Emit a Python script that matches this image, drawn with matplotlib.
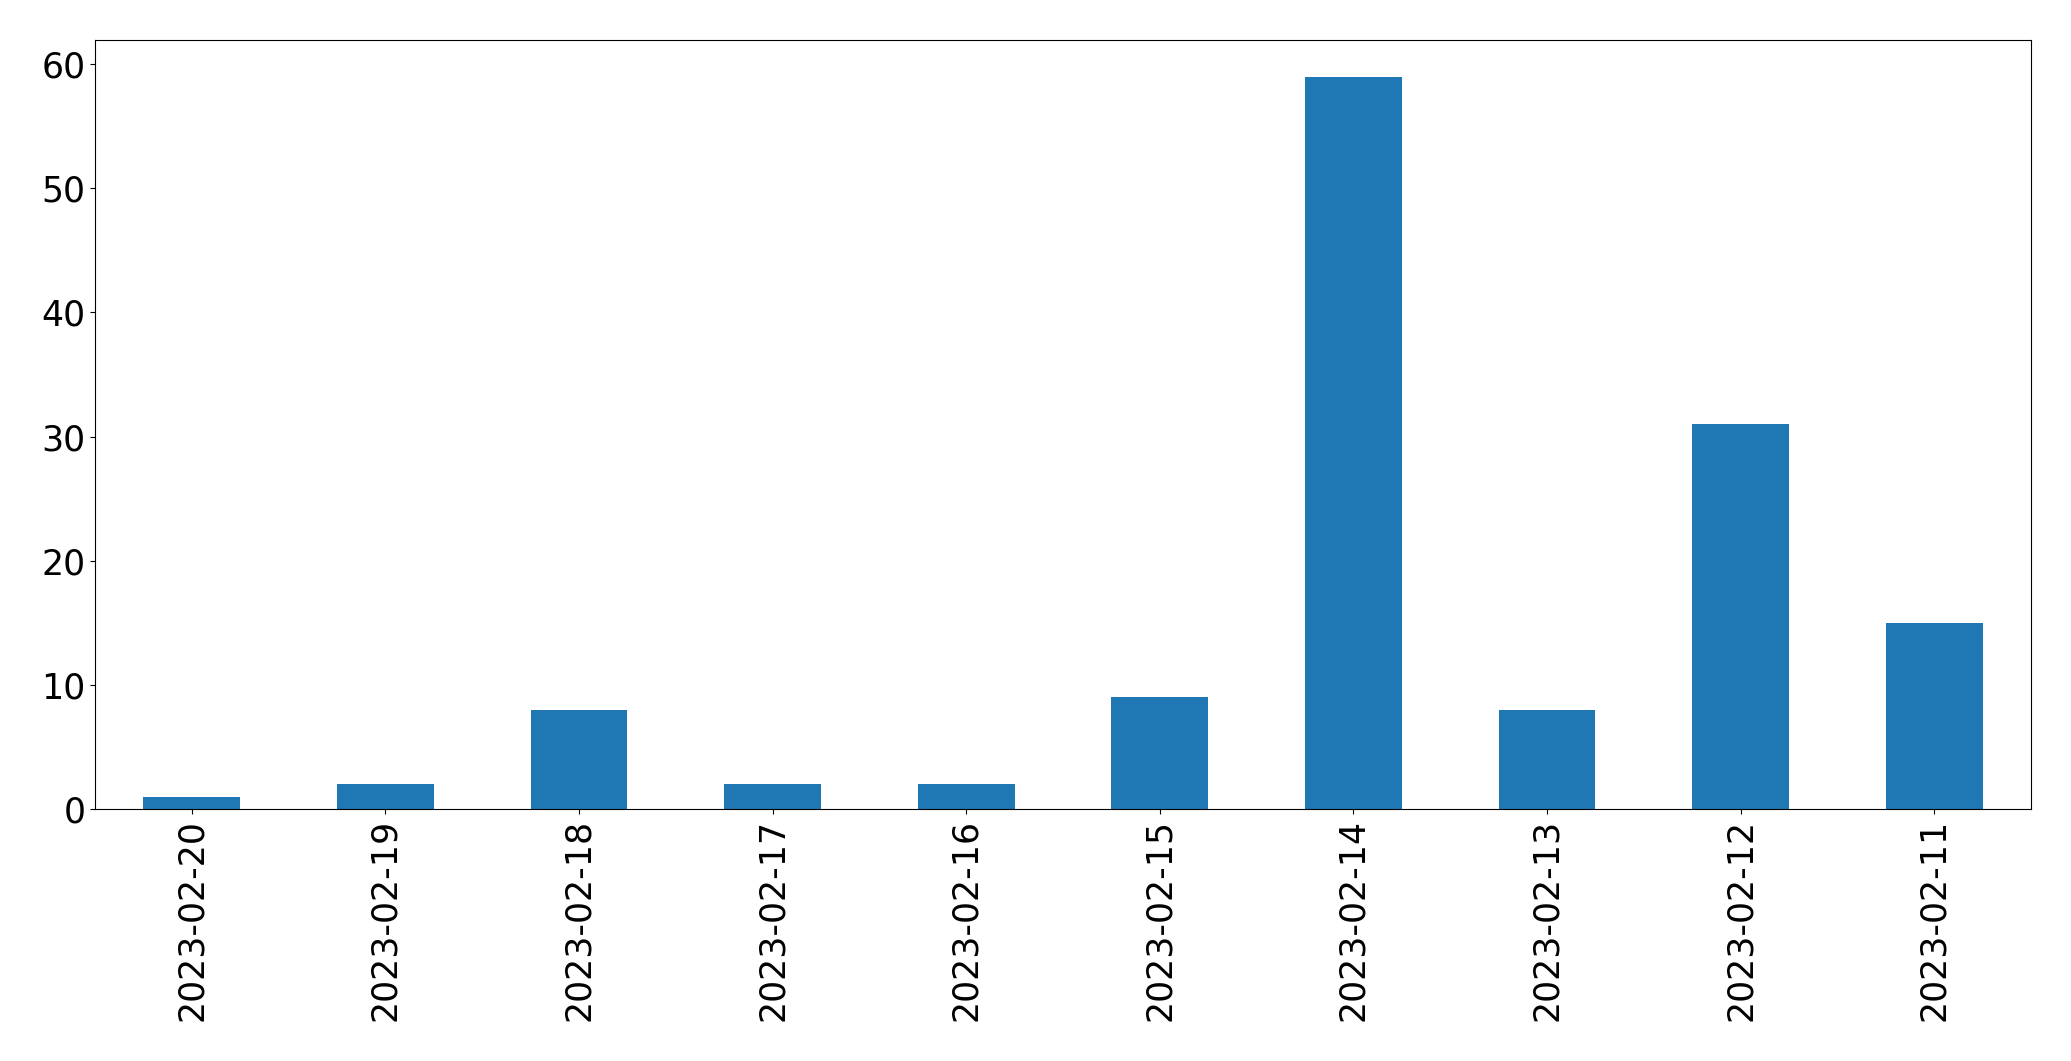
import matplotlib
matplotlib.use("Agg")
import matplotlib.pyplot as plt
import pandas as pd

dates = ["2023-02-20", "2023-02-19", "2023-02-18", "2023-02-17", "2023-02-16",
         "2023-02-15", "2023-02-14", "2023-02-13", "2023-02-12", "2023-02-11"]
counts = [1, 2, 8, 2, 2, 9, 59, 8, 31, 15]

s = pd.Series(counts, index=dates)

fig = plt.figure(figsize=(20.71, 10.61), dpi=100)
ax = fig.add_axes([95/2071, (1061-809)/1061, (2031-95)/2071, (809-40)/1061])
s.plot(kind="bar", ax=ax, fontsize=25)
ax.set_yticks([0, 10, 20, 30, 40, 50, 60])

fig.savefig("out.png", dpi=100)
